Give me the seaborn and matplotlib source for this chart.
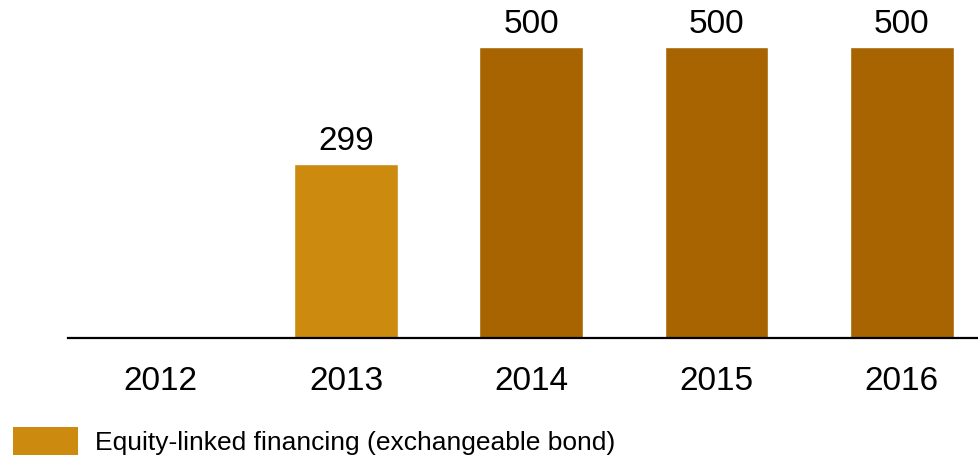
import numpy as np
import pandas as pd
import matplotlib
matplotlib.use("Agg")
import matplotlib.pyplot as plt
from matplotlib.patches import Patch
import seaborn as sns

years = ["2012", "2013", "2014", "2015", "2016"]
values = [np.nan, 299, 500, 500, 500]
bar_colors = ["#CC8A0F", "#CC8A0F", "#A86400", "#A86400", "#A86400"]
legend_label = "Equity-linked financing (exchangeable bond)"
legend_color = "#CC8A0F"

sns.set_theme(style="white")
plt.rcParams["font.family"] = ["Liberation Sans", "DejaVu Sans"]

df = pd.DataFrame({"year": years, "value": values})

fig = plt.figure(figsize=(9.79, 4.55), dpi=100)
ax = fig.add_axes([68 / 979, 117 / 455, (979 - 68) / 979, 338 / 455])

sns.barplot(data=df, x="year", y="value", hue="year", palette=bar_colors,
            legend=False, width=0.56, saturation=1, ax=ax)

for cont, v in zip(ax.containers, values):
    if not np.isnan(v):
        ax.bar_label(cont, labels=[f"{v:.0f}"], padding=5, fontsize=24, color="#000000")

ax.set_xlim(-0.5, 4.416)
ax.set_ylim(0, 581)
ax.set_xlabel("")
ax.set_ylabel("")
ax.set_yticks([])
ax.tick_params(axis="x", length=0, pad=20, labelsize=24, labelcolor="#000000")
for s in ["top", "right", "left"]:
    ax.spines[s].set_visible(False)
ax.spines["bottom"].set_color("#000000")
ax.spines["bottom"].set_linewidth(1.6)

fig.legend(handles=[Patch(facecolor=legend_color, edgecolor="none", label=legend_label)],
           loc="lower left", bbox_to_anchor=(13 / 979, 0.0), frameon=False,
           fontsize=19, labelcolor="#000000", handlelength=2.46, handleheight=1.22,
           handletextpad=0.64, borderaxespad=0.0, borderpad=0.0)

fig.savefig("out.png", dpi=100)
